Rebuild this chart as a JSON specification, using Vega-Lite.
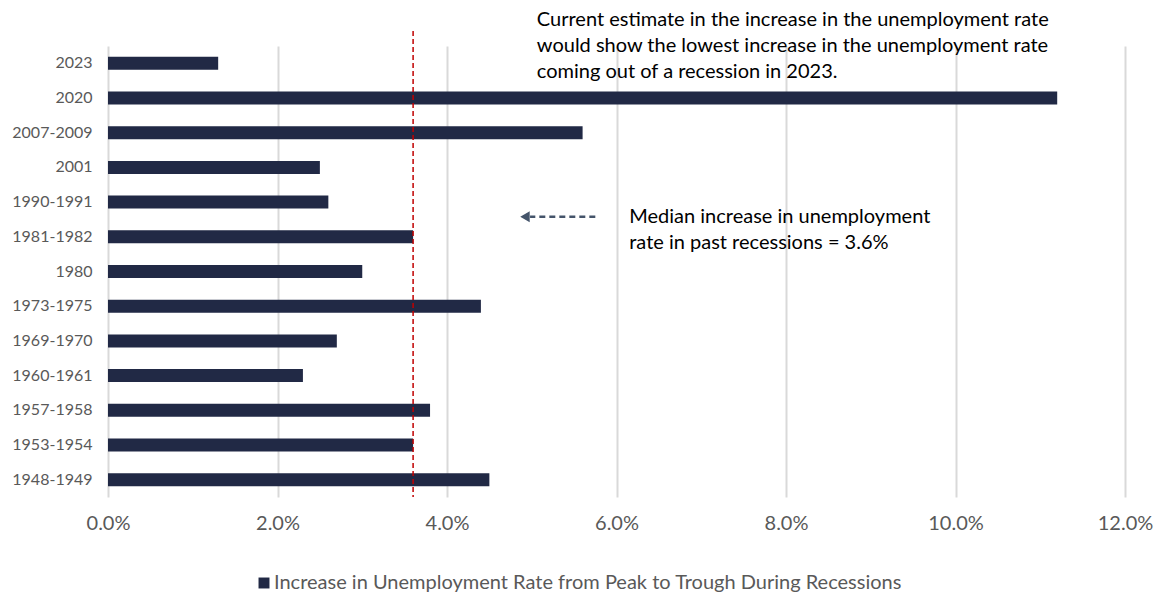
{
  "$schema": "https://vega.github.io/schema/vega-lite/v6.json",
  "width": 1017,
  "height": 451,
  "autosize": {"type": "none"},
  "padding": {"left": 108, "top": 46, "right": 32, "bottom": 97},
  "background": "white",
  "config": {
    "view": {"stroke": null},
    "font": "Lato",
    "axis": {"labelFont": "Lato", "labelColor": "#595959"}
  },
  "datasets": {
    "bars": [
      {"period": "2023", "value": 0.013},
      {"period": "2020", "value": 0.112},
      {"period": "2007-2009", "value": 0.056},
      {"period": "2001", "value": 0.025},
      {"period": "1990-1991", "value": 0.026},
      {"period": "1981-1982", "value": 0.036},
      {"period": "1980", "value": 0.030},
      {"period": "1973-1975", "value": 0.044},
      {"period": "1969-1970", "value": 0.027},
      {"period": "1960-1961", "value": 0.023},
      {"period": "1957-1958", "value": 0.038},
      {"period": "1953-1954", "value": 0.036},
      {"period": "1948-1949", "value": 0.045}
    ]
  },
  "layer": [
    {
      "data": {"name": "bars"},
      "transform": [{"calculate": "'Increase in Unemployment Rate from Peak to Trough During Recessions'", "as": "series"}],
      "mark": {"type": "bar", "height": 13},
      "encoding": {
        "y": {
          "field": "period", "type": "nominal", "sort": null,
          "scale": {"paddingInner": 0.62, "paddingOuter": 0.31},
          "axis": {"title": null, "ticks": false, "domain": false, "labelFontSize": 16, "labelPadding": 16, "labelColor": "#595959"}
        },
        "x": {
          "field": "value", "type": "quantitative",
          "scale": {"domain": [0, 0.12], "nice": false},
          "axis": {
            "title": null, "format": ".1%", "values": [0, 0.02, 0.04, 0.06, 0.08, 0.10, 0.12],
            "grid": true, "gridColor": "#D9D9D9", "gridWidth": 2, "domain": false, "ticks": false,
            "labelFlush": false, "labelOverlap": false,
            "labelFontSize": 20, "labelPadding": 16, "labelColor": "#595959"
          }
        },
        "color": {
          "field": "series", "type": "nominal",
          "scale": {"range": ["#212945"]},
          "legend": {
            "title": null, "orient": "none", "legendX": 146, "legendY": 527,
            "symbolType": "square", "symbolSize": 120, "symbolStrokeWidth": 0,
            "labelFontSize": 20, "labelColor": "#595959", "labelFont": "Lato", "labelLimit": 900, "labelOffset": 0
          }
        }
      }
    },
    {
      "data": {"values": [{"median": 0.036}]},
      "mark": {"type": "rule", "color": "#C00000", "strokeWidth": 1.5, "strokeDash": [5, 3], "yOffset": -15},
      "encoding": {"x": {"field": "median", "type": "quantitative"}}
    },
    {
      "data": {"values": [{"period": "1981-1982", "start": 0.0575, "end": 0.0498}]},
      "mark": {"type": "rule", "color": "#44546A", "strokeWidth": 2.5, "strokeDash": [6, 4], "yOffset": -20},
      "encoding": {
        "y": {"field": "period", "type": "nominal", "sort": null},
        "x": {"field": "start", "type": "quantitative"},
        "x2": {"field": "end"}
      }
    },
    {
      "data": {"values": [{"period": "1981-1982", "tip": 0.0492}]},
      "mark": {"type": "point", "shape": "triangle-left", "filled": true, "color": "#44546A", "size": 120, "opacity": 1, "yOffset": -20},
      "encoding": {
        "y": {"field": "period", "type": "nominal", "sort": null},
        "x": {"field": "tip", "type": "quantitative"}
      }
    },
    {
      "data": {"values": [{"period": "1981-1982", "pos": 0.0615, "label": ["Median increase in unemployment", "rate in past recessions = 3.6%"]}]},
      "mark": {"type": "text", "align": "left", "baseline": "middle", "fontSize": 20, "lineHeight": 26, "dy": -20, "color": "#000000", "font": "Lato"},
      "encoding": {
        "y": {"field": "period", "type": "nominal", "sort": null},
        "x": {"field": "pos", "type": "quantitative"},
        "text": {"field": "label"}
      }
    },
    {
      "data": {"values": [{"period": "2023", "pos": 0.0506, "label": ["Current estimate in the increase in the unemployment rate", "would show the lowest increase in the unemployment rate", "coming out of a recession in 2023."]}]},
      "mark": {"type": "text", "align": "left", "baseline": "middle", "fontSize": 20, "lineHeight": 26, "dy": -43, "color": "#000000", "font": "Lato"},
      "encoding": {
        "y": {"field": "period", "type": "nominal", "sort": null},
        "x": {"field": "pos", "type": "quantitative"},
        "text": {"field": "label"}
      }
    }
  ]
}
